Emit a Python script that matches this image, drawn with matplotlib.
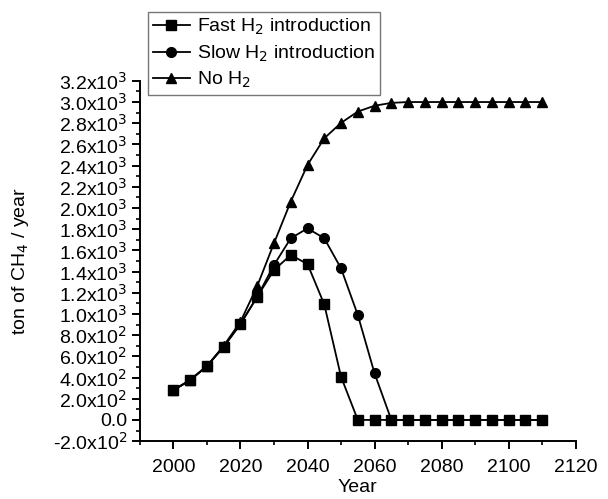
import numpy as np
import matplotlib.pyplot as plt
from matplotlib.ticker import MultipleLocator, FuncFormatter

plt.rcParams['font.family'] = ['Liberation Sans', 'DejaVu Sans']

years = list(range(2000, 2115, 5))
fast = [281, 376, 508, 690, 905, 1162, 1414, 1556, 1471, 1090, 407,
        0, 0, 0, 0, 0, 0, 0, 0, 0, 0, 0, 0]
slow = [281, 376, 508, 690, 905, 1162, 1462, 1714, 1808, 1714, 1430, 990, 439,
        0, 0, 0, 0, 0, 0, 0, 0, 0, 0]
no_h2 = [281, 376, 508, 700, 926, 1263, 1667, 2060, 2406, 2658, 2803, 2910,
         2965, 2992, 3000, 3000, 3000, 3000, 3000, 3000, 3000, 3000, 3000]

fig = plt.figure(figsize=(6.08, 4.99), dpi=100)
ax = fig.add_axes([0.230, 0.116, 0.717, 0.722])

kw = dict(color='black', lw=1.3, markersize=7)
ax.plot(years, fast, marker='s', label='Fast H$_2$ introduction', **kw)
ax.plot(years, slow, marker='o', label='Slow H$_2$ introduction', **kw)
ax.plot(years, no_h2, marker='^', label='No H$_2$', **kw)

ax.set_xlim(1990, 2120)
ax.set_ylim(-200, 3200)
ax.xaxis.set_major_locator(MultipleLocator(20))
ax.xaxis.set_minor_locator(MultipleLocator(10))
ax.yaxis.set_major_locator(MultipleLocator(200))
ax.yaxis.set_minor_locator(MultipleLocator(100))


def fmt(v, pos):
    if abs(v) < 1e-9:
        return '0.0'
    e = int(np.floor(np.log10(abs(v))))
    m = v / 10 ** e
    return '%.1fx10$^{%d}$' % (m, e)


ax.yaxis.set_major_formatter(FuncFormatter(fmt))

for s in ['top', 'right']:
    ax.spines[s].set_visible(False)
for s in ['left', 'bottom']:
    ax.spines[s].set_linewidth(1.4)
ax.tick_params(which='major', direction='out', length=6, width=1.4, labelsize=14)
ax.tick_params(axis='x', pad=7)
ax.tick_params(axis='y', pad=3)
ax.tick_params(which='minor', direction='out', length=3, width=1.2)

ax.set_xlabel('Year', fontsize=14, labelpad=2)
ax.set_ylabel('ton of CH$_4$ / year', fontsize=14)
ax.yaxis.set_label_coords(-0.25, 0.5)

leg = ax.legend(loc='upper left', bbox_to_anchor=(0.243, 0.976),
                bbox_transform=fig.transFigure, fontsize=14, fancybox=False,
                handlelength=1.9, handletextpad=0.4, borderpad=0.25,
                labelspacing=0.32, borderaxespad=0)
leg.get_frame().set_edgecolor('#555555')
leg.get_frame().set_linewidth(1.0)

fig.savefig('out.png', dpi=100)
